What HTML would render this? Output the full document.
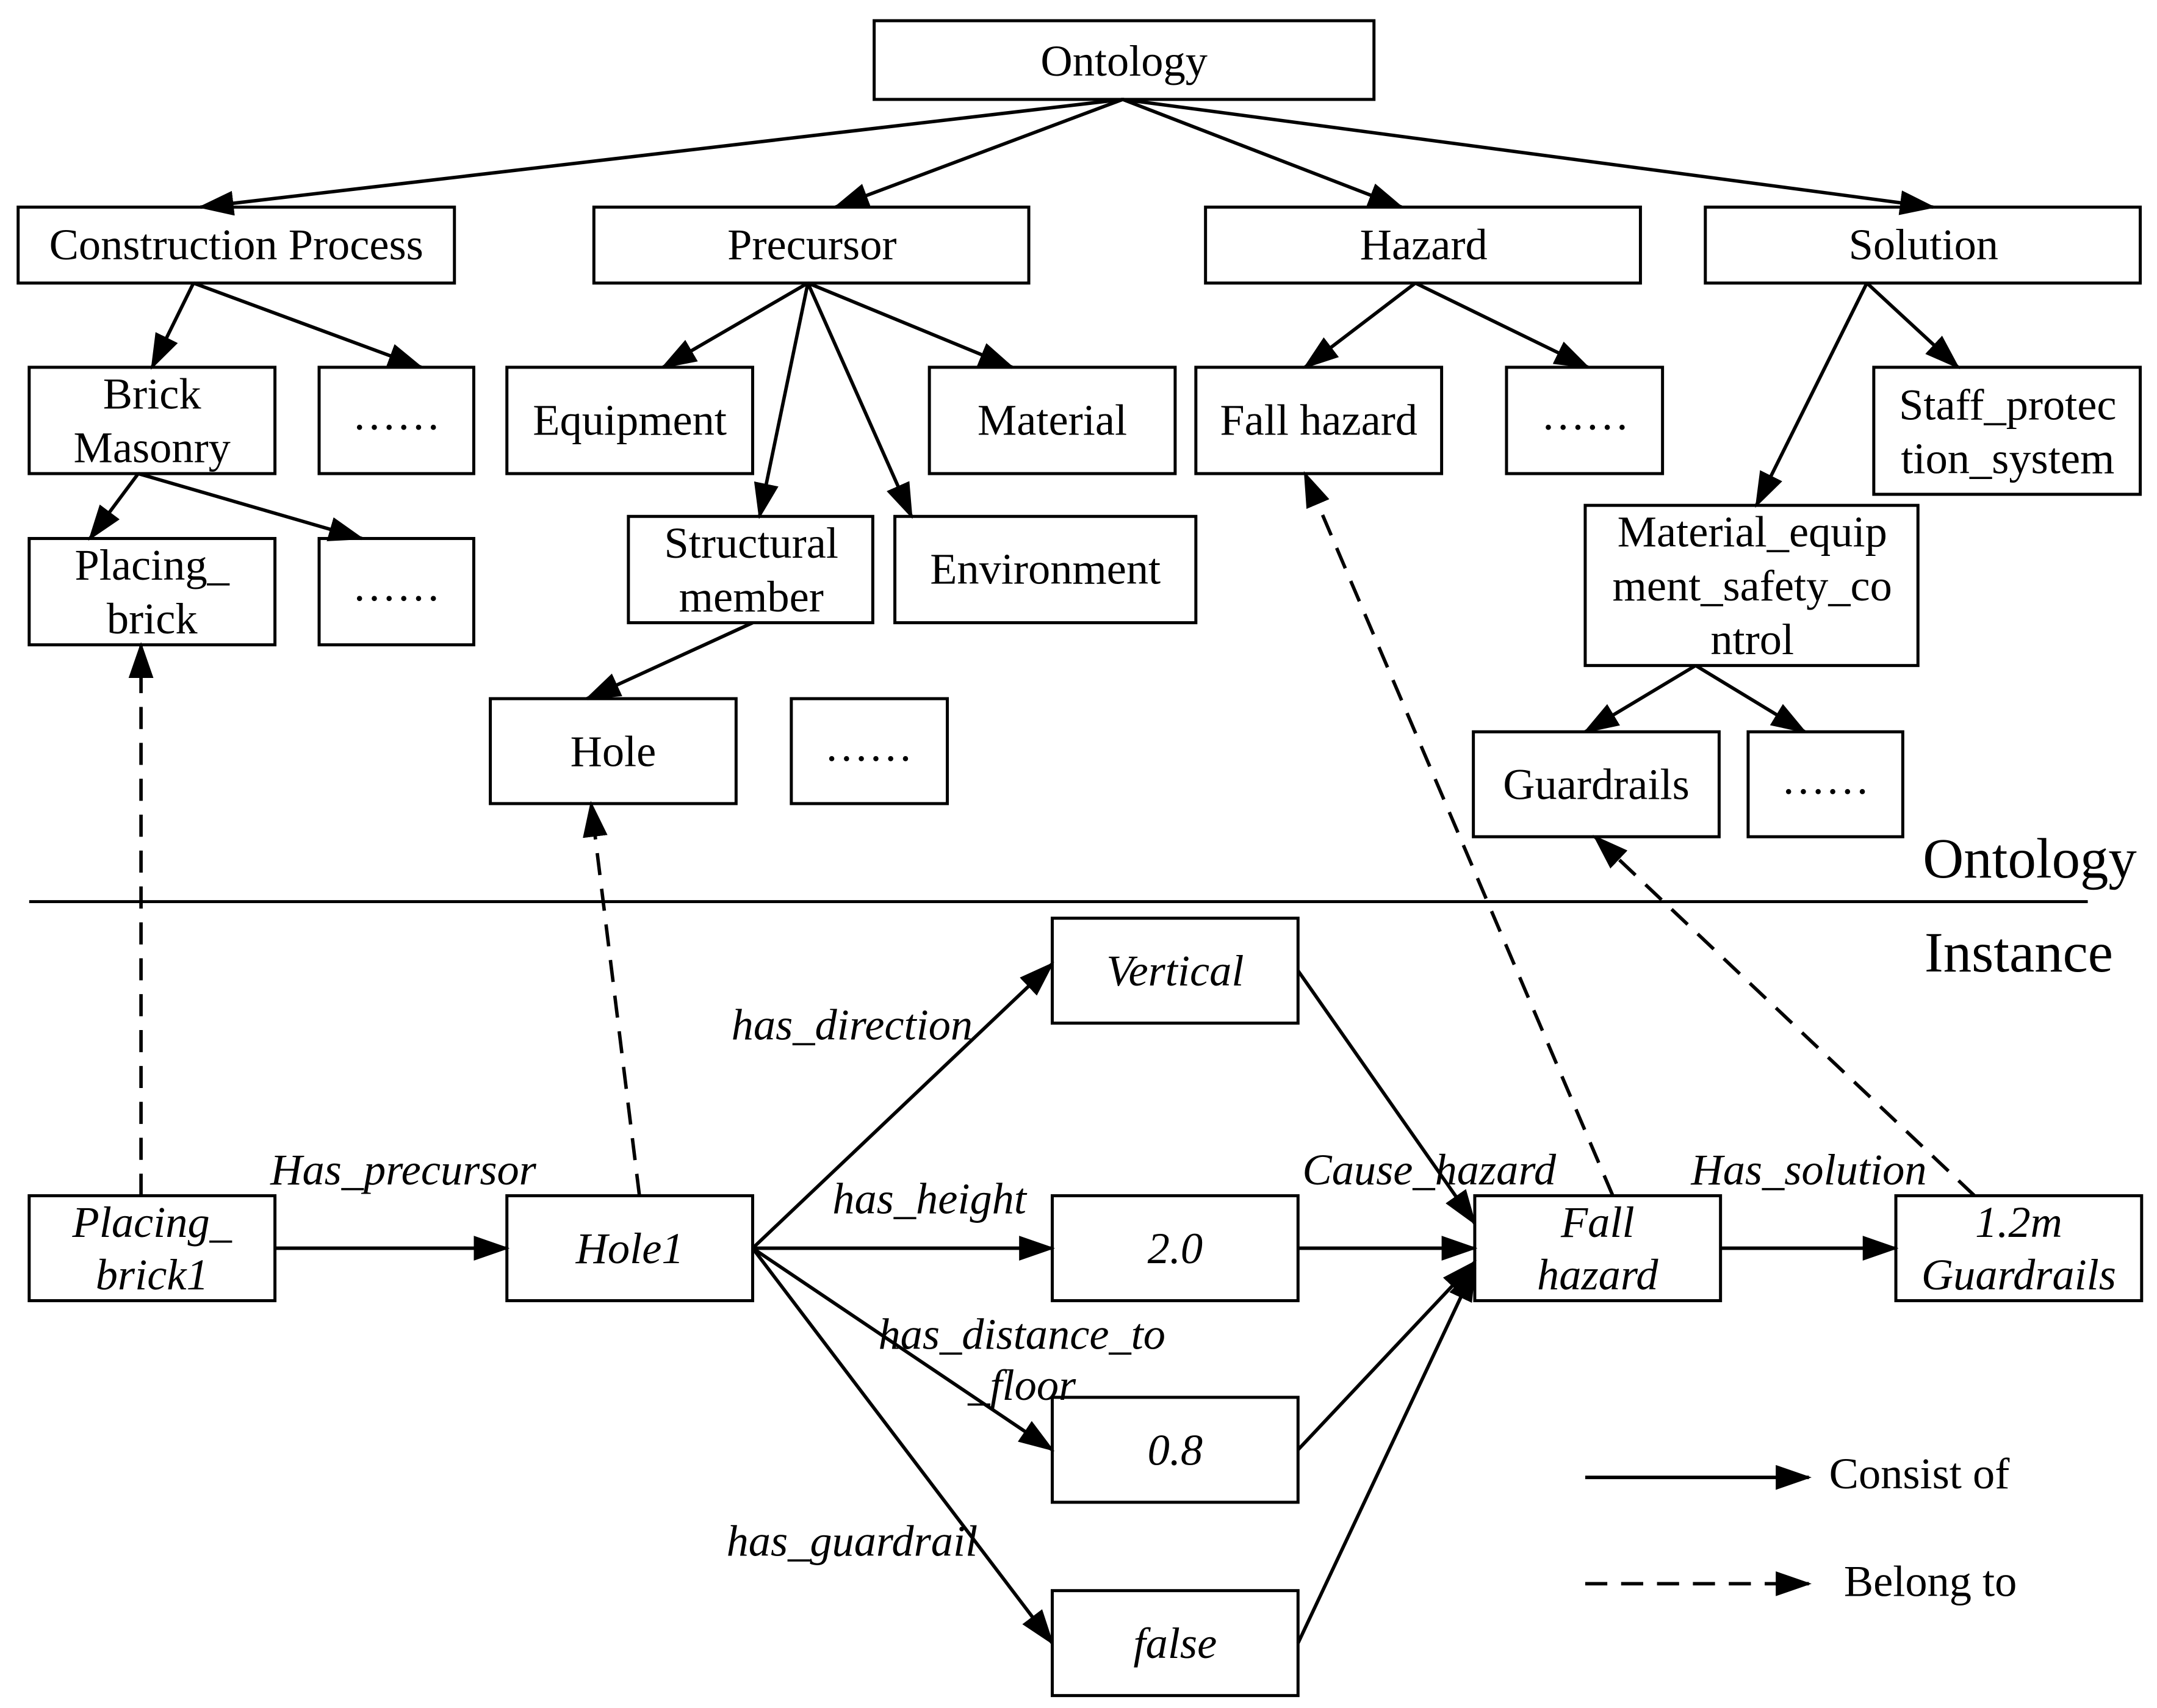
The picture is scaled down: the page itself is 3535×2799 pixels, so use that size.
<!DOCTYPE html>
<html><head><meta charset="utf-8"><style>
html,body{margin:0;padding:0;background:#fff;}
svg{display:block;}
text{font-family:"Liberation Serif",serif;font-size:32px;fill:#000;}
.i{font-style:italic;}
</style></head><body>
<svg width="3535" height="2799" viewBox="0 0 1562 1237" xmlns="http://www.w3.org/2000/svg">
<defs>
<marker id="a" markerUnits="userSpaceOnUse" markerWidth="26" markerHeight="18" refX="24" refY="9" orient="auto">
<path d="M0,0 L26,9 L0,18 Z" fill="#000"/></marker>
</defs>
<g fill="none" stroke="#000" stroke-width="2.2">
<rect x="633" y="15" width="362" height="57"/>
<rect x="13" y="150" width="316" height="55"/>
<rect x="430" y="150" width="315" height="55"/>
<rect x="873" y="150" width="315" height="55"/>
<rect x="1235" y="150" width="315" height="55"/>
<rect x="21" y="266" width="178" height="77"/>
<rect x="231" y="266" width="112" height="77"/>
<rect x="367" y="266" width="178" height="77"/>
<rect x="673" y="266" width="178" height="77"/>
<rect x="866" y="266" width="178" height="77"/>
<rect x="1091" y="266" width="113" height="77"/>
<rect x="1357" y="266" width="193" height="92"/>
<rect x="21" y="390" width="178" height="77"/>
<rect x="231" y="390" width="112" height="77"/>
<rect x="455" y="374" width="177" height="77"/>
<rect x="648" y="374" width="218" height="77"/>
<rect x="1148" y="366" width="241" height="116"/>
<rect x="355" y="506" width="178" height="76"/>
<rect x="573" y="506" width="113" height="76"/>
<rect x="1067" y="530" width="178" height="76"/>
<rect x="1266" y="530" width="112" height="76"/>
<rect x="21" y="866" width="178" height="76"/>
<rect x="367" y="866" width="178" height="76"/>
<rect x="762" y="665" width="178" height="76"/>
<rect x="762" y="866" width="178" height="76"/>
<rect x="762" y="1012" width="178" height="76"/>
<rect x="762" y="1152" width="178" height="76"/>
<rect x="1068" y="866" width="178" height="76"/>
<rect x="1373" y="866" width="178" height="76"/>
<line x1="21" y1="653" x2="1512" y2="653"/>
</g>
<g stroke="#000" stroke-width="2.5" marker-end="url(#a)">
<line x1="813" y1="72" x2="145" y2="150"/>
<line x1="813" y1="72" x2="605" y2="150"/>
<line x1="813" y1="72" x2="1015" y2="150"/>
<line x1="813" y1="72" x2="1400" y2="150"/>
<line x1="140" y1="205" x2="110" y2="266"/>
<line x1="140" y1="205" x2="305" y2="266"/>
<line x1="100" y1="343" x2="65" y2="390"/>
<line x1="100" y1="343" x2="262" y2="390"/>
<line x1="585" y1="205" x2="480" y2="266"/>
<line x1="585" y1="205" x2="550" y2="374"/>
<line x1="585" y1="205" x2="660" y2="374"/>
<line x1="585" y1="205" x2="733" y2="266"/>
<line x1="545" y1="451" x2="425" y2="506"/>
<line x1="1025" y1="205" x2="945" y2="266"/>
<line x1="1025" y1="205" x2="1150" y2="266"/>
<line x1="1352" y1="205" x2="1272" y2="366"/>
<line x1="1352" y1="205" x2="1418" y2="266"/>
<line x1="1228" y1="482" x2="1148" y2="530"/>
<line x1="1228" y1="482" x2="1307" y2="530"/>
<line x1="199" y1="904" x2="367" y2="904"/>
<line x1="545" y1="904" x2="762" y2="698"/>
<line x1="545" y1="904" x2="762" y2="904"/>
<line x1="545" y1="904" x2="762" y2="1050"/>
<line x1="545" y1="904" x2="762" y2="1190"/>
<line x1="940" y1="703" x2="1068" y2="886"/>
<line x1="940" y1="904" x2="1068" y2="904"/>
<line x1="940" y1="1050" x2="1068" y2="914"/>
<line x1="940" y1="1190" x2="1068" y2="918"/>
<line x1="1246" y1="904" x2="1373" y2="904"/>
<line x1="1148" y1="1070" x2="1310" y2="1070"/>
</g>
<g stroke="#000" stroke-width="2.5" stroke-dasharray="16,10" marker-end="url(#a)">
<line x1="102" y1="866" x2="102" y2="467"/>
<line x1="463" y1="866" x2="428" y2="582"/>
<line x1="1168" y1="866" x2="945" y2="343"/>
<line x1="1430" y1="866" x2="1155" y2="606"/>
<line x1="1148" y1="1147" x2="1310" y2="1147"/>
</g>
<g text-anchor="middle" dominant-baseline="central">
<text x="814" y="44">Ontology</text>
<text x="171" y="177">Construction Process</text>
<text x="588" y="177">Precursor</text>
<text x="1031" y="177">Hazard</text>
<text x="1393" y="177">Solution</text>
<text x="110" y="285">Brick</text>
<text x="110" y="324">Masonry</text>
<text x="287" y="300">……</text>
<text x="456" y="304">Equipment</text>
<text x="762" y="304">Material</text>
<text x="955" y="304">Fall hazard</text>
<text x="1148" y="300">……</text>
<text x="1454" y="293">Staff_protec</text>
<text x="1454" y="332">tion_system</text>
<text x="110" y="409">Placing_</text>
<text x="110" y="448">brick</text>
<text x="287" y="424">……</text>
<text x="544" y="393">Structural</text>
<text x="544" y="432">member</text>
<text x="757" y="412">Environment</text>
<text x="1269" y="385">Material_equip</text>
<text x="1269" y="424">ment_safety_co</text>
<text x="1269" y="463">ntrol</text>
<text x="444" y="544">Hole</text>
<text x="629" y="540">……</text>
<text x="1156" y="568">Guardrails</text>
<text x="1322" y="564">……</text>
<text x="1470" y="622" style="font-size:41px">Ontology</text>
<text x="1462" y="690" style="font-size:41px">Instance</text>
<text class="i" x="110" y="885">Placing_</text>
<text class="i" x="110" y="923">brick1</text>
<text class="i" x="456" y="904">Hole1</text>
<text class="i" x="851" y="703">Vertical</text>
<text class="i" x="851" y="904">2.0</text>
<text class="i" x="851" y="1050">0.8</text>
<text class="i" x="851" y="1190">false</text>
<text class="i" x="1157" y="885">Fall</text>
<text class="i" x="1157" y="923">hazard</text>
<text class="i" x="1462" y="885">1.2m</text>
<text class="i" x="1462" y="923">Guardrails</text>
<text class="i" x="292" y="847">Has_precursor</text>
<text class="i" x="617" y="742">has_direction</text>
<text class="i" x="673" y="868">has_height</text>
<text class="i" x="740" y="966">has_distance_to</text>
<text class="i" x="740" y="1003">_floor</text>
<text class="i" x="617" y="1116">has_guardrail</text>
<text class="i" x="1035" y="847">Cause_hazard</text>
<text class="i" x="1310" y="847">Has_solution</text>
<text x="1390" y="1067">Consist of</text>
<text x="1398" y="1145">Belong to</text>
</g>
</svg>
</body></html>
